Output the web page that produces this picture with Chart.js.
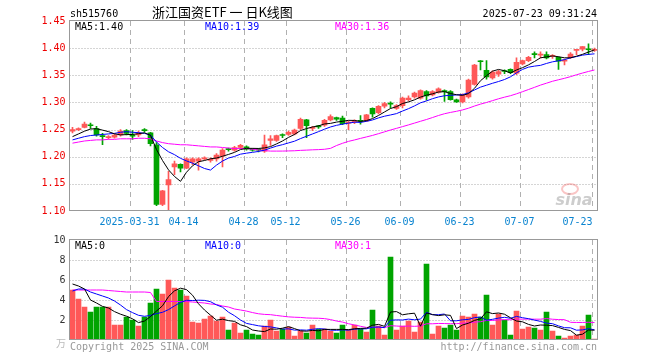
<!DOCTYPE html>
<html>
<head>
<meta charset="utf-8">
<script src="https://cdn.jsdelivr.net/npm/chart.js@4.4.1/dist/chart.umd.min.js"></script>
<style>
html, body { margin: 0; padding: 0; background: #fff; }
#wrap { position: relative; width: 660px; height: 360px; }
#price { position: absolute; left: 0; top: 0; }
#vol { position: absolute; left: 0; top: 230px; }
</style>
</head>
<body>
<div id="wrap">
  <canvas id="price" width="660" height="230"></canvas>
  <canvas id="vol" width="660" height="130"></canvas>
</div>
<script>
// trading days 2025-03-17 .. 2025-07-23
const dates = [
  '03-17','03-18','03-19','03-20','03-21','03-24','03-25','03-26','03-27','03-28','03-31',
  '04-01','04-02','04-03','04-07','04-08','04-09','04-10','04-11','04-14','04-15','04-16','04-17','04-18',
  '04-21','04-22','04-23','04-24','04-25','04-28','04-29','04-30',
  '05-06','05-07','05-08','05-09','05-12','05-13','05-14','05-15','05-16','05-19','05-20','05-21','05-22','05-23',
  '05-26','05-27','05-28','05-29','05-30',
  '06-03','06-04','06-05','06-06','06-09','06-10','06-11','06-12','06-13','06-16','06-17','06-18','06-19','06-20',
  '06-23','06-24','06-25','06-26','06-27','06-30',
  '07-01','07-02','07-03','07-04','07-07','07-08','07-09','07-10','07-11','07-14','07-15','07-16','07-17','07-18',
  '07-21','07-22','07-23'
];

const opens = [1.247,1.250,1.254,1.258,1.252,1.239,1.235,1.236,1.240,1.248,
  1.240,1.240,1.249,1.244,1.222,1.112,1.148,1.181,1.186,1.179,
  1.190,1.192,1.196,1.193,1.196,1.201,1.214,1.212,1.217,1.218,
  1.213,1.213,1.210,1.230,1.230,1.240,1.241,1.242,1.252,1.268,
  1.252,1.256,1.258,1.268,1.272,1.271,1.262,1.264,1.267,1.266,
  1.289,1.281,1.293,1.298,1.289,1.294,1.305,1.310,1.308,1.320,
  1.314,1.319,1.322,1.320,1.305,1.301,1.310,1.333,1.376,1.359,
  1.345,1.352,1.358,1.361,1.354,1.371,1.377,1.389,1.387,1.388,
  1.385,1.383,1.376,1.383,1.396,1.398,1.398,1.396];

const closes = [1.250,1.251,1.260,1.257,1.240,1.237,1.237,1.240,1.247,1.243,
  1.238,1.244,1.248,1.224,1.112,1.137,1.158,1.187,1.179,1.196,
  1.196,1.196,1.198,1.195,1.203,1.212,1.213,1.217,1.221,1.214,
  1.212,1.212,1.222,1.233,1.239,1.239,1.245,1.249,1.269,1.257,
  1.254,1.255,1.267,1.274,1.269,1.261,1.264,1.266,1.265,1.277,
  1.279,1.293,1.298,1.297,1.294,1.308,1.308,1.317,1.322,1.312,
  1.320,1.325,1.320,1.305,1.301,1.314,1.341,1.369,1.375,1.347,
  1.356,1.357,1.357,1.355,1.374,1.377,1.383,1.388,1.389,1.382,
  1.386,1.376,1.378,1.389,1.397,1.403,1.397,1.398];

const highs = [1.254,1.253,1.264,1.262,1.256,1.243,1.239,1.242,1.250,1.250,
  1.248,1.247,1.252,1.245,1.226,1.138,1.173,1.192,1.187,1.198,
  1.198,1.198,1.200,1.198,1.206,1.215,1.216,1.219,1.223,1.220,
  1.215,1.215,1.240,1.239,1.240,1.242,1.247,1.251,1.271,1.269,
  1.256,1.258,1.269,1.277,1.273,1.275,1.266,1.268,1.276,1.278,
  1.290,1.294,1.300,1.301,1.296,1.310,1.312,1.319,1.323,1.322,
  1.322,1.327,1.323,1.322,1.306,1.316,1.343,1.370,1.377,1.377,
  1.358,1.359,1.360,1.362,1.382,1.378,1.385,1.393,1.393,1.393,
  1.388,1.384,1.380,1.392,1.397,1.403,1.408,1.400];

const lows = [1.244,1.248,1.253,1.252,1.238,1.222,1.233,1.234,1.238,1.240,
  1.232,1.237,1.245,1.220,1.110,1.110,1.100,1.167,1.172,1.178,
  1.185,1.175,1.194,1.190,1.192,1.181,1.210,1.210,1.215,1.212,
  1.210,1.209,1.208,1.221,1.228,1.235,1.239,1.240,1.250,1.235,
  1.248,1.252,1.256,1.266,1.267,1.259,1.250,1.261,1.260,1.265,
  1.273,1.279,1.290,1.290,1.287,1.290,1.303,1.308,1.306,1.304,
  1.312,1.317,1.302,1.304,1.300,1.299,1.308,1.332,1.360,1.343,
  1.343,1.348,1.353,1.353,1.351,1.369,1.375,1.382,1.382,1.380,
  1.381,1.361,1.369,1.381,1.388,1.395,1.388,1.394];

// volume (万手)
const volumes = [5.0,4.1,3.3,2.8,3.3,3.3,3.3,1.5,1.5,2.3,
  2.0,1.4,2.3,3.7,5.1,4.6,6.0,5.2,5.0,4.4,
  1.8,1.7,2.1,2.4,1.9,2.3,1.0,1.7,0.7,1.0,
  0.6,0.5,1.4,2.0,0.9,1.1,1.3,0.4,0.9,0.7,
  1.5,1.1,1.1,0.9,0.7,1.5,1.0,1.5,1.1,0.8,
  3.0,1.4,0.5,8.3,1.0,1.4,1.9,0.8,1.8,7.6,
  0.6,1.4,1.2,1.5,1.0,2.4,2.3,2.6,2.3,4.5,
  1.5,2.6,2.0,0.5,2.9,1.1,1.3,1.2,1.0,2.8,
  0.9,0.4,0.2,0.4,0.5,1.4,2.5,0.1];

// moving-average values for the first days (window starts before the chart)
const ma5Lead = [1.237,1.242,1.247,1.251];
const ma10Lead = [1.231,1.234,1.237,1.239,1.240,1.241,1.242,1.243,1.245];
const ma30Lead = [1.225,1.227,1.229,1.230,1.231,1.231,1.232,1.232,1.233,1.233,
  1.233,1.234,1.234,1.233,1.229,1.226,1.224,1.223,1.222,1.222,
  1.221,1.220,1.219,1.218,1.218,1.217,1.216,1.215,1.215];
const vma5Lead = [5.6,5.4,5.1,4.0];
const vma10Lead = [4.9,5.1,5.1,4.8,4.6,4.4,4.2,3.9,3.5];
const vma30Lead = [5.0,5.0,5.0,5.0,5.0,5.0,4.95,4.9,4.85,4.8,
  4.8,4.8,4.8,4.75,3.85,3.85,3.85,3.85,3.85,3.85,
  3.8,3.75,3.7,3.6,3.55,3.4,3.3,3.1,3.0];

const tickDates = ['03-31','04-14','04-28','05-12','05-26','06-09','06-23','07-07','07-23'];
const tickTexts = ['2025-03-31','04-14','04-28','05-12','05-26','06-09','06-23','07-07','07-23'];

const RED = '#ff5858';
const GREEN = '#00a400';
const MONO = '"DejaVu Sans Mono", monospace';

function movingAvg(src, n, lead) {
  return src.map((v, i) => {
    if (i < n - 1) return lead[i];
    let s = 0;
    for (let j = i - n + 1; j <= i; j++) s += src[j];
    return s / n;
  });
}

const upColors = closes.map((c, i) => c >= opens[i] ? RED : GREEN);

function text(ctx, s, x, y, color, font, align) {
  ctx.save();
  ctx.fillStyle = color;
  ctx.font = font;
  ctx.textAlign = align || 'left';
  ctx.textBaseline = 'alphabetic';
  ctx.fillText(s, x, y);
  ctx.restore();
}

function drawGrid(chart) {
  const ctx = chart.ctx, a = chart.chartArea;
  const xs = chart.scales.x, ys = chart.scales.y;
  const slot = xs.getPixelForValue(1) - xs.getPixelForValue(0);
  ctx.save();
  ctx.lineWidth = 1;
  ctx.strokeStyle = '#aaa';
  ctx.setLineDash([1, 2]);
  ys.ticks.forEach(t => {
    if (t.value <= ys.min + 1e-6 || t.value >= ys.max - 1e-6) return;
    const y = Math.round(ys.getPixelForValue(t.value)) + 0.5;
    ctx.beginPath(); ctx.moveTo(a.left, y); ctx.lineTo(a.right, y); ctx.stroke();
  });
  ctx.strokeStyle = '#b0b0b0';
  ctx.setLineDash([5, 4]);
  tickDates.forEach(d => {
    const x = Math.round(xs.getPixelForValue(dates.indexOf(d)) - slot / 2) + 0.5;
    ctx.beginPath(); ctx.moveTo(x, a.top); ctx.lineTo(x, a.bottom); ctx.stroke();
  });
  ctx.restore();
}

function drawBorder(chart) {
  const ctx = chart.ctx, a = chart.chartArea;
  ctx.save();
  ctx.strokeStyle = '#999';
  ctx.lineWidth = 1;
  ctx.strokeRect(a.left, a.top - 0.5, a.right - a.left, a.bottom - a.top);
  ctx.restore();
}

const priceDecor = {
  id: 'priceDecor',
  beforeDatasetsDraw(chart) { drawGrid(chart); },
  afterDatasetsDraw(chart) {
    drawBorder(chart);
    const ctx = chart.ctx;
    const xs = chart.scales.x;
    const slot = xs.getPixelForValue(1) - xs.getPixelForValue(0);
    const f = '10px ' + MONO;
    text(ctx, 'sh515760', 70, 17, '#000', f);
    text(ctx, '浙江国资ETF 一 日K线图', 152, 17, '#000', '13px "Noto Sans CJK SC"');
    text(ctx, '2025-07-23 09:31:24', 597, 17, '#000', f, 'right');
    text(ctx, 'MA5:1.40', 75, 30, '#000', f);
    text(ctx, 'MA10:1.39', 205, 30, '#0000ff', f);
    text(ctx, 'MA30:1.36', 335, 30, '#ff00ff', f);
    tickDates.forEach((d, j) => {
      const x = xs.getPixelForValue(dates.indexOf(d)) - slot / 2;
      const last = j === tickDates.length - 1;
      text(ctx, tickTexts[j], last ? x + 1 : x, 225, '#0a84d0', f, last ? 'right' : 'center');
    });
    // sina watermark
    ctx.save();
    ctx.strokeStyle = 'rgba(240,90,90,0.35)';
    ctx.lineWidth = 2;
    ctx.beginPath();
    ctx.ellipse(570, 189, 8, 5, 0, 0, Math.PI * 2);
    ctx.stroke();
    ctx.restore();
    text(ctx, 'sina', 574, 205, 'rgba(130,130,130,0.4)', 'italic bold 16px "DejaVu Sans"', 'center');
  }
};

const volDecor = {
  id: 'volDecor',
  beforeDatasetsDraw(chart) { drawGrid(chart); },
  afterDatasetsDraw(chart) {
    drawBorder(chart);
    const ctx = chart.ctx;
    const f = '10px ' + MONO;
    text(ctx, 'MA5:0', 75, 19, '#000', f);
    text(ctx, 'MA10:0', 205, 19, '#0000ff', f);
    text(ctx, 'MA30:1', 335, 19, '#ff00ff', f);
    text(ctx, 'Copyright 2025 SINA.COM', 70, 120, '#999', f);
    text(ctx, 'http://finance.sina.com.cn', 597, 120, '#999', f, 'right');
    text(ctx, '万', 66, 117, '#bbb', '10px "Noto Sans CJK SC"', 'right');
  }
};

function maLine(data, color) {
  return { type: 'line', data: data, borderColor: color, borderWidth: 1, pointRadius: 0,
    fill: false, tension: 0, order: 0 };
}

function baseOptions(yOpts, bottomH) {
  return {
    responsive: false,
    animation: false,
    events: [],
    layout: { padding: { left: 0, right: 62.5, top: yOpts.padTop, bottom: 0 } },
    plugins: { legend: { display: false }, tooltip: { enabled: false } },
    scales: {
      x: {
        type: 'category', offset: true,
        grid: { display: false, drawTicks: false },
        border: { display: false },
        ticks: { display: false },
        afterFit(s) { s.height = bottomH; }
      },
      y: {
        min: yOpts.min, max: yOpts.max,
        grid: { display: false, drawTicks: false },
        border: { display: false },
        ticks: {
          stepSize: yOpts.step, color: yOpts.color, padding: 4,
          font: { family: 'DejaVu Sans Mono', size: 10 },
          callback: yOpts.cb
        },
        afterFit(s) { s.width = 69.5; }
      }
    }
  };
}

new Chart(document.getElementById('price'), {
  type: 'bar',
  data: {
    labels: dates,
    datasets: [
      maLine(movingAvg(closes, 5, ma5Lead), '#000000'),
      maLine(movingAvg(closes, 10, ma10Lead), '#0000ff'),
      maLine(movingAvg(closes, 30, ma30Lead), '#ff00ff'),
      { type: 'bar', data: dates.map((d, i) => [opens[i], closes[i]]), backgroundColor: upColors,
        barThickness: 5, grouped: false, borderWidth: 0, minBarLength: 1, order: 1 },
      { type: 'bar', data: dates.map((d, i) => [lows[i], highs[i]]), backgroundColor: upColors,
        barThickness: 1, grouped: false, borderWidth: 0, minBarLength: 1, order: 2 }
    ]
  },
  options: baseOptions({ min: 1.10, max: 1.45, step: 0.05, color: '#ee0000', padTop: 21,
    cb: v => Number(v).toFixed(2) }, 19),
  plugins: [priceDecor]
});

new Chart(document.getElementById('vol'), {
  type: 'bar',
  data: {
    labels: dates,
    datasets: [
      maLine(movingAvg(volumes, 5, vma5Lead), '#000000'),
      maLine(movingAvg(volumes, 10, vma10Lead), '#0000ff'),
      maLine(movingAvg(volumes, 30, vma30Lead), '#ff00ff'),
      { type: 'bar', data: volumes, backgroundColor: upColors, barThickness: 5,
        grouped: false, borderWidth: 0, order: 1 }
    ]
  },
  options: baseOptions({ min: 0, max: 10, step: 2, color: '#333', padTop: 10,
    cb: v => (v === 0 ? '' : String(v)) }, 20),
  plugins: [volDecor]
});
</script>
</body>
</html>
